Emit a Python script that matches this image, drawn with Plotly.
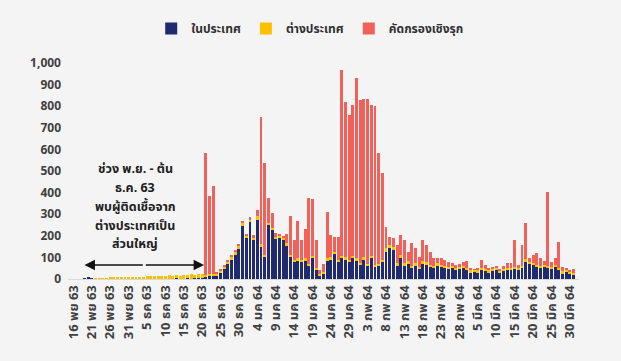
import plotly.graph_objects as go

# daily index 0..136
domestic = [0,0,0,4,5,4,0,0,0,0,
            0,0,1,0,0,1,0,0,1,0,
            2,1,0,2,1,0,2,1,3,2,
            1,3,2,4,5,6,10,12,15,15,
            30,48,68,88,110,140,245,190,262,180,
            275,150,100,250,225,185,190,180,155,100,
            80,85,80,85,60,95,40,15,25,85,
            90,115,80,95,90,80,95,85,65,90,
            60,95,55,60,80,127,142,135,60,96,
            60,70,50,60,45,70,65,55,50,60,
            55,50,45,50,40,45,50,40,30,35,
            30,40,35,30,35,40,30,35,40,40,
            45,40,50,80,70,65,55,50,55,50,
            45,55,40,25,35,25,20]
imported = [0,0,0,0,0,0,2,3,2,3,
            5,6,5,7,6,8,6,7,9,8,
            10,12,14,11,13,12,15,13,16,14,
            18,15,19,16,18,15,10,10,10,10,
            10,12,15,15,15,15,15,12,13,12,
            15,10,10,10,12,10,10,10,10,12,
            10,10,10,10,10,10,10,8,8,10,
            10,10,10,10,10,10,10,10,10,10,
            10,10,10,10,10,15,15,15,12,15,
            12,12,12,12,12,15,12,12,12,12,
            12,12,12,10,10,10,10,10,10,8,
            10,10,10,10,10,10,8,10,12,12,
            12,10,10,12,10,10,10,10,10,10,
            10,10,10,10,8,8,8]
screening = [0,0,0,0,0,0,0,0,0,0,
             0,0,0,0,0,0,0,0,0,0,
             0,0,0,0,0,0,0,0,0,0,
             0,0,0,0,0,0,565,363,405,3,
             2,5,5,7,9,5,5,8,10,10,
             30,590,427,115,70,20,5,10,45,178,
             90,175,90,135,305,265,130,17,35,215,
             105,70,105,863,720,670,700,835,755,735,
             765,700,735,515,400,100,39,38,85,93,
             108,45,103,70,43,95,80,60,34,24,
             29,26,23,15,15,15,20,35,10,2,
             10,38,20,10,10,10,7,13,23,23,
             123,15,97,166,15,35,54,35,20,344,
             25,31,123,22,7,9,20]

tick_labels = ["16 พย 63","21 พย 63","26 พย 63","31 พย 63","5 ธค 63","10 ธค 63",
               "15 ธค 63","20 ธค 63","25 ธค 63","30 ธค 63","4 มค 64","9 มค 64",
               "14 มค 64","19 มค 64","24 มค 64","29 มค 64","3 กพ 64","8 กพ 64",
               "13 กพ 64","18 กพ 64","23 กพ 64","28 กพ 64","5 มีค 64","10 มีค 64",
               "15 มีค 64","20 มีค 64","25 มีค 64","30 มีค 64"]

note_lines = ["ช่วง พ.ย. - ต้น", "ธ.ค. 63", "พบผู้ติดเชื้อจาก", "ต่างประเทศเป็น", "ส่วนใหญ่"]
note_y = [505, 417, 329, 245, 162]

days = list(range(len(domestic)))
FONT = "Tahoma, 'Noto Sans Thai', 'Noto Sans', sans-serif"

fig = go.Figure()
fig.add_bar(x=days, y=domestic, name="ในประเทศ", marker_color="#1f2b6e", marker_line_width=0)
fig.add_bar(x=days, y=imported, name="ต่างประเทศ", marker_color="#ffc000", marker_line_width=0)
fig.add_bar(x=days, y=screening, name="คัดกรองเชิงรุก", marker_color="#f2605a", marker_line_width=0)

fig.update_layout(
    barmode="stack", bargap=0.2,
    width=621, height=361,
    margin=dict(l=68, r=42, t=63, b=82),
    paper_bgcolor="#f4f4f4", plot_bgcolor="#f4f4f4",
    font=dict(family=FONT, size=11, color="#404040"),
    showlegend=True,
    legend=dict(orientation="h", x=0.474, xanchor="center", y=1.16, yanchor="middle",
                traceorder="normal", font=dict(size=12, color="#303030", weight="bold"),
                bgcolor="rgba(0,0,0,0)", itemwidth=30),
    xaxis=dict(range=[-1.5, 137.5], tickmode="array",
               tickvals=list(range(0, len(domestic), 5)), ticktext=tick_labels,
               tickangle=-90, showgrid=False, zeroline=False, showline=True,
               linecolor="#d9d9d9", ticks="", tickfont=dict(size=13, color="#404040", weight="bold")),
    yaxis=dict(range=[0, 1000], tickmode="array", tickvals=list(range(0, 1001, 100)),
               tickformat=",", showgrid=False, zeroline=False, showline=False, ticks="",
               ticklabelstandoff=6, tickfont=dict(size=12, color="#404040", weight="bold")),
)

for line, yv in zip(note_lines, note_y):
    fig.add_annotation(x=16.8, y=yv, xref="x", yref="y", showarrow=False, text=line,
                       font=dict(size=12.5, color="#202020", weight="bold"), align="center")
# double-headed arrow
for tip in (3, 35.5):
    fig.add_annotation(x=tip, y=65, ax=19.25, ay=65, xref="x", yref="y", axref="x", ayref="y",
                       text="", showarrow=True, arrowhead=2, arrowsize=1.3, arrowwidth=1.6,
                       arrowcolor="#111111")
fig.add_annotation(x=138.6, y=176, xref="x", yref="y", showarrow=False,
                   text="48", font=dict(size=11, color="#303030", weight="bold"))
fig.add_annotation(x=138.6, y=97, xref="x", yref="y", showarrow=False,
                   text="ราย", font=dict(size=11, color="#303030", weight="bold"))

fig.write_html("out.html")
